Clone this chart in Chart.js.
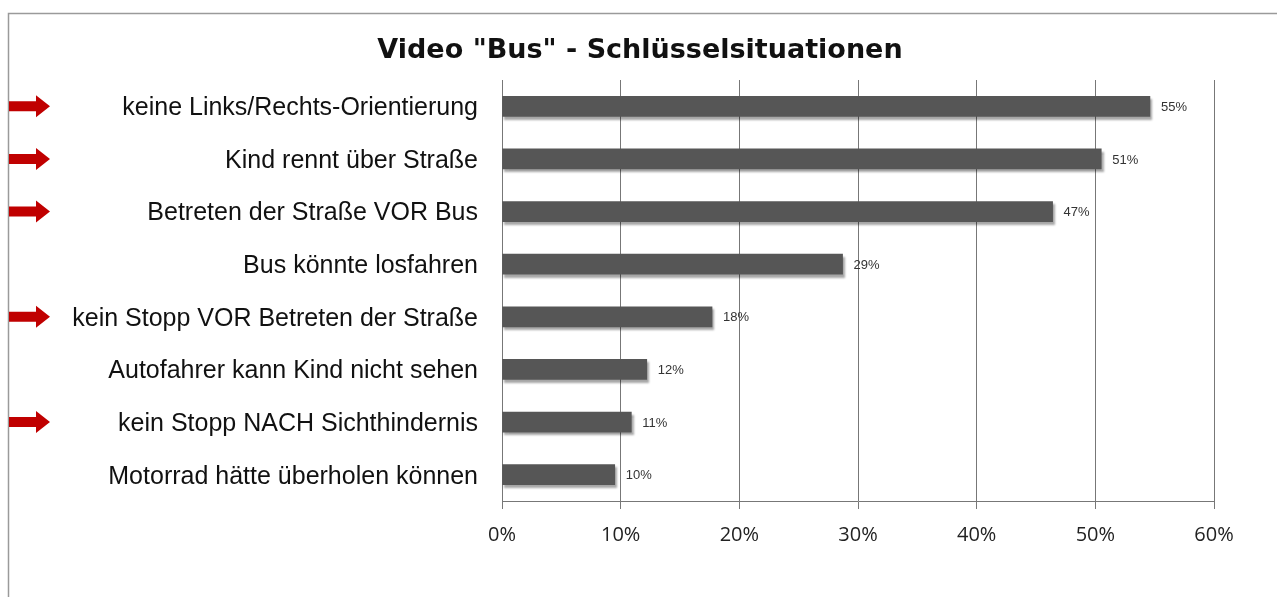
<!DOCTYPE html>
<html>
<head>
<meta charset="utf-8">
<script src="https://cdn.jsdelivr.net/npm/chart.js@4/dist/chart.umd.min.js"></script>
<style>
  html, body { margin: 0; padding: 0; background: #fff; }
  #wrap { position: absolute; left: 0; top: 0; width: 1277px; height: 597px; }
</style>
</head>
<body>
<div id="wrap"><canvas id="chart"></canvas></div>
<script>
const title = 'Video "Bus" - Schlüsselsituationen';
const categories = [
    'keine Links/Rechts-Orientierung',
    'Kind rennt über Straße',
    'Betreten der Straße VOR Bus',
    'Bus könnte losfahren',
    'kein Stopp VOR Betreten der Straße',
    'Autofahrer kann Kind nicht sehen',
    'kein Stopp NACH Sichthindernis',
    'Motorrad hätte überholen können'
];
const values = [54.6, 50.5, 46.4, 28.7, 17.7, 12.2, 10.9, 9.5];
const valueLabels = ['55%', '51%', '47%', '29%', '18%', '12%', '11%', '10%'];
const arrowFlags = [true, true, true, false, true, false, true, false];
const xTicks = [0, 10, 20, 30, 40, 50, 60];

const PLOT_LEFT = 502;

// frame, title, arrows, value labels
const extras = {
    id: 'extras',
    beforeDraw(chart) {
        const ctx = chart.ctx;
        ctx.save();
        ctx.fillStyle = '#fff';
        ctx.fillRect(0, 0, chart.width, chart.height);
        ctx.strokeStyle = '#9a9a9a';
        ctx.lineWidth = 1.5;
        ctx.beginPath();
        ctx.moveTo(8.5, chart.height);
        ctx.lineTo(8.5, 13.5);
        ctx.lineTo(chart.width, 13.5);
        ctx.stroke();

        ctx.fillStyle = '#111';
        ctx.font = 'bold 27px "DejaVu Sans", sans-serif';
        ctx.textAlign = 'center';
        ctx.textBaseline = 'middle';
        ctx.fillText(title, 640, 51);
        ctx.restore();
    },
    beforeDatasetsDraw(chart) {
        const ctx = chart.ctx;
        ctx.save();
        ctx.shadowColor = 'rgba(0,0,0,0.35)';
        ctx.shadowOffsetX = 2;
        ctx.shadowOffsetY = 3;
        ctx.shadowBlur = 2;
    },
    afterDatasetsDraw(chart) {
        const ctx = chart.ctx;
        ctx.restore();
        const y = chart.scales.y;
        const meta = chart.getDatasetMeta(0);

        ctx.save();
        ctx.font = '13px "Liberation Sans", sans-serif';
        ctx.fillStyle = '#333';
        ctx.textBaseline = 'middle';
        meta.data.forEach((bar, i) => {
            ctx.fillText(valueLabels[i], bar.x + 11, bar.y + 1);
        });

        ctx.fillStyle = '#c00000';
        arrowFlags.forEach((on, i) => {
            if (!on) return;
            const cy = y.getPixelForValue(i);
            ctx.beginPath();
            ctx.moveTo(9, cy - 5);
            ctx.lineTo(36, cy - 5);
            ctx.lineTo(36, cy - 11);
            ctx.lineTo(50, cy);
            ctx.lineTo(36, cy + 11);
            ctx.lineTo(36, cy + 5);
            ctx.lineTo(9, cy + 5);
            ctx.closePath();
            ctx.fill();
        });
        ctx.restore();
    }
};

new Chart(document.getElementById('chart'), {
    type: 'bar',
    data: {
        labels: categories,
        datasets: [{
            data: values,
            backgroundColor: '#565656',
            borderWidth: 0,
            barThickness: 20
        }]
    },
    options: {
        indexAxis: 'y',
        animation: false,
        responsive: true,
        maintainAspectRatio: false,
        layout: { padding: { left: 0, right: 63, top: 80, bottom: 0 } },
        plugins: {
            legend: { display: false },
            tooltip: { enabled: false },
            title: { display: false }
        },
        scales: {
            x: {
                min: 0,
                max: 60,
                afterBuildTicks(scale) {
                    scale.ticks = xTicks.map(v => ({ value: v }));
                },
                afterFit(scale) { scale.height = 96; },
                border: { display: true, color: '#777', width: 1 },
                grid: { color: '#777', lineWidth: 1, tickLength: 8, drawOnChartArea: true },
                ticks: {
                    color: '#222',
                    padding: 14,
                    font: { family: '"Open Sans", "Liberation Sans", sans-serif', size: 20 },
                    callback: v => v + '%'
                }
            },
            y: {
                afterFit(scale) { scale.width = PLOT_LEFT; },
                border: { display: true, color: '#777', width: 1 },
                grid: { display: false },
                ticks: {
                    color: '#111',
                    padding: 16,
                    labelOffset: 2,
                    font: { family: '"Liberation Sans", Arial, sans-serif', size: 25 }
                }
            }
        }
    },
    plugins: [extras]
});
</script>
</body>
</html>
